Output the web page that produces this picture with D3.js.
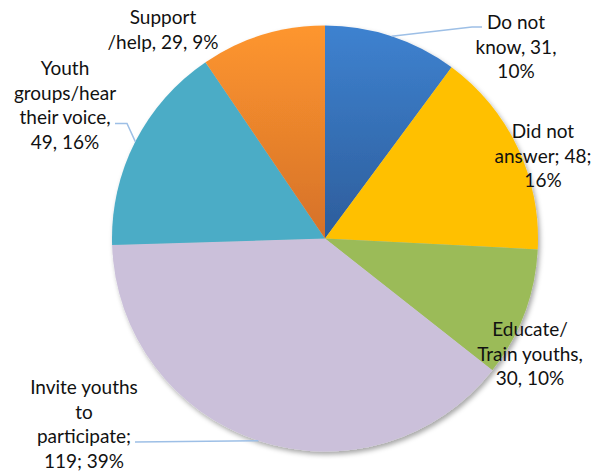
<!DOCTYPE html>
<html>
<head>
<meta charset="utf-8">
<script src="https://cdn.jsdelivr.net/npm/d3@7"></script>
<style>
  html, body { margin: 0; padding: 0; background: #fff; }
  svg { display: block; }
</style>
</head>
<body>
<svg id="chart" width="600" height="472"></svg>
<script>
// Responses, clockwise from 12 o'clock
const categories = ["Do not know", "Did not answer", "Educate/Train youths",
                    "Invite youths to participate", "Youth groups/hear their voice", "Support/help"];
const values = [31, 48, 30, 119, 49, 29];
// Label line templates: {v} = count, {p} = percentage
const labelLines = [
  ["Do not", "know, {v},", "{p}"],
  ["Did not", "answer; {v};", "{p}"],
  ["Educate/", "Train youths,", "{v}, {p}"],
  ["Invite youths", "to", "participate;", "{v}; {p}"],
  ["Youth", "groups/hear", "their voice,", "{v}, {p}"],
  ["Support", "/help, {v}, {p}"]
];

const W = 600, H = 472;
const cx = 325, cy = 238.5, R = 213;

// Slice fills: [top colour, bottom colour] (equal for flat fills)
const fills = [
  ["#3e82d0", "#2d5d9b"],
  ["#ffc000", "#ffc000"],
  ["#9bbb59", "#9bbb59"],
  ["#cbc0da", "#cbc0da"],
  ["#4bacc6", "#4bacc6"],
  ["#fe962f", "#d57129"]
];

// Label block placement: centre x, first baseline y
const labelPos = [
  [516, 29], [543, 138], [530, 336], [84, 394], [65, 75], [163, 24]
];
// Leader lines: extra points after the slice edge point (null = no leader)
const leaders = [
  [[472, 27], [482, 27]],
  null,
  null,
  [[135, 442]],
  [[127, 123.5], [115, 123.5]],
  null
];
const lineH = 24.5;

const svg = d3.select("#chart");
const defs = svg.append("defs");

const shadow = defs.append("filter").attr("id", "pieShadow")
  .attr("x", "-10%").attr("y", "-10%").attr("width", "125%").attr("height", "125%");
shadow.append("feDropShadow")
  .attr("dx", 2).attr("dy", 3).attr("stdDeviation", 2.5)
  .attr("flood-color", "#000").attr("flood-opacity", 0.35);

fills.forEach((f, i) => {
  const g = defs.append("linearGradient").attr("id", "grad" + i)
    .attr("x1", 0).attr("y1", 0).attr("x2", 0).attr("y2", 1);
  g.append("stop").attr("offset", "0%").attr("stop-color", f[0]);
  g.append("stop").attr("offset", "100%").attr("stop-color", f[1]);
});

const total = d3.sum(values);
const pie = d3.pie().sort(null).value(d => d)(values);
const arc = d3.arc().innerRadius(0).outerRadius(R);
const edge = d3.arc().innerRadius(R).outerRadius(R);

const pieG = svg.append("g")
  .attr("transform", `translate(${cx},${cy})`)
  .attr("filter", "url(#pieShadow)");

pieG.selectAll("path.slice")
  .data(pie)
  .join("path")
  .attr("class", "slice")
  .attr("d", arc)
  .attr("fill", (d, i) => `url(#grad${i})`);

// Leader lines from the slice's outer edge (mid-angle) to the label
pie.forEach((d, i) => {
  if (!leaders[i]) return;
  const mid = (d.startAngle + d.endAngle) / 2;
  const p0 = [cx + R * Math.sin(mid), cy - R * Math.cos(mid)];
  const pts = [p0].concat(leaders[i]);
  svg.append("path")
    .attr("d", d3.line()(pts))
    .attr("fill", "none")
    .attr("stroke", "#9dbfe6")
    .attr("stroke-width", 1.5);
});

// Data labels
const fmt = (t, v) => t.replace("{v}", v).replace("{p}", Math.round(v / total * 100) + "%");
pie.forEach((d, i) => {
  const t = svg.append("text")
    .attr("x", labelPos[i][0])
    .attr("y", labelPos[i][1])
    .attr("text-anchor", "middle")
    .attr("font-family", "Lato, 'Open Sans', sans-serif")
    .attr("font-size", 19)
    .attr("fill", "#111");
  labelLines[i].forEach((ln, k) => {
    t.append("tspan")
      .attr("x", labelPos[i][0])
      .attr("y", labelPos[i][1] + k * lineH)
      .text(fmt(ln, values[i]));
  });
});
</script>
</body>
</html>
